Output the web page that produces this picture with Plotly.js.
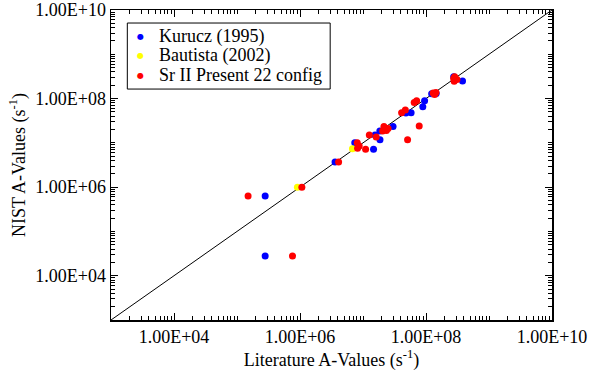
<!DOCTYPE html>
<html>
<head>
<meta charset="utf-8">
<script src="https://cdn.plot.ly/plotly-3.0.1.min.js"></script>
<style>
  html, body { margin: 0; padding: 0; background: #fff; }
  #chart { width: 589px; height: 372px; }
</style>
</head>
<body>
<div id="chart"></div>
<script>
// Transition probabilities (s^-1): literature value vs NIST value
var kuruczLit  = [2.8e5, 2.8e5, 3.6e6, 7.4e6, 1.47e7, 1.55e7, 1.86e7, 1.85e7, 3.0e7, 4.8e7, 5.8e7, 8.9e7, 9.5e7, 1.23e8, 1.45e8, 2.75e8, 3.8e8];
var kuruczNist = [6.3e5, 2.8e4, 3.7e6, 1.0e7, 7.2e6, 1.5e7, 1.18e7, 1.86e7, 2.35e7, 4.7e7, 4.8e7, 6.5e7, 8.9e7, 1.29e8, 1.3e8, 3.1e8, 2.5e8];
var bautistaLit  = [9.1e5, 6.8e6, 1.35e8];
var bautistaNist = [1.0e6, 7.4e6, 1.29e8];
var srIILit  = [1.5e5, 7.6e5, 1.07e6, 4.1e6, 8.1e6, 8.7e6, 8.2e6, 1.1e7, 1.26e7, 1.62e7, 2.05e7, 2.15e7, 2.5e7, 2.35e7, 4.1e7, 5.1e7, 4.7e7, 6.5e7, 7.1e7, 7.8e7, 1.44e8, 1.37e8, 1.3e8, 2.85e8, 2.8e8, 2.75e8, 3.1e8];
var srIINist = [6.3e5, 2.8e4, 1.0e6, 3.7e6, 1.0e7, 8.5e6, 7.6e6, 7.2e6, 1.5e7, 1.36e7, 1.85e7, 2.35e7, 2.1e7, 1.9e7, 4.8e7, 1.18e7, 5.5e7, 8.1e7, 8.9e7, 2.4e7, 1.38e8, 1.24e8, 1.34e8, 3.1e8, 2.45e8, 2.85e8, 2.7e8];
// Line of equality
var diagVals = [1e3, 1e10];

// Series names and colours (also used for the key)
var seriesNames  = ['Kurucz (1995)', 'Bautista (2002)', 'Sr II Present 22 config'];
var seriesColors = ['#0000ff', '#ffff00', '#ff0000'];

// Labelled ticks every second decade; minor ticks fill in the rest
var tickVals = [1e4, 1e6, 1e8, 1e10];
var tickText = ['1.00E+04', '1.00E+06', '1.00E+08', '1.00E+10'];

var serif = 'Liberation Serif, Times New Roman, serif';

var xs = [kuruczLit, bautistaLit, srIILit];
var ys = [kuruczNist, bautistaNist, srIINist];

var traces = [
  { x: diagVals, y: diagVals, mode: 'lines', type: 'scatter',
    line: { color: 'black', width: 1 }, showlegend: false, hoverinfo: 'skip' }
];
for (var i = 0; i < seriesNames.length; i++) {
  traces.push({ x: xs[i], y: ys[i], mode: 'markers', type: 'scatter', name: seriesNames[i],
    marker: { color: seriesColors[i], size: 7 }, showlegend: false });
}

function axis(titleText, standoff) {
  return {
    type: 'log',
    range: [3, 10],
    tickmode: 'array',
    tickvals: tickVals,
    ticktext: tickText,
    ticks: 'inside',
    ticklen: 7,
    tickwidth: 1,
    tickcolor: 'black',
    minor: { ticks: 'inside', ticklen: 4, tickwidth: 1, tickcolor: 'black', dtick: 'D1' },
    showline: true,
    linecolor: 'black',
    linewidth: 1.5,
    mirror: 'allticks',
    showgrid: false,
    zeroline: false,
    tickfont: { family: serif, size: 18, color: 'black' },
    title: { text: titleText, font: { family: serif, size: 18, color: 'black' }, standoff: standoff }
  };
}

// Key: framed box with coloured dots and series names
var keyTop = 0.958, keyBottom = 0.745, keyLeft = 0.037, keyRight = 0.497;
var rowY = [0.916, 0.853, 0.789];
var shapes = [{
  type: 'rect', xref: 'paper', yref: 'paper',
  x0: keyLeft, x1: keyRight, y0: keyBottom, y1: keyTop,
  line: { color: 'black', width: 1 }, fillcolor: 'white'
}];
var annotations = [];
for (var k = 0; k < seriesNames.length; k++) {
  annotations.push({
    xref: 'paper', yref: 'paper', x: 0.068, y: rowY[k], xanchor: 'center', yanchor: 'middle',
    text: '\u25CF', showarrow: false, font: { family: 'DejaVu Sans', size: 8, color: seriesColors[k] }
  });
  annotations.push({
    xref: 'paper', yref: 'paper', x: 0.105, y: rowY[k], xanchor: 'left', yanchor: 'middle',
    text: seriesNames[k], showarrow: false, font: { family: serif, size: 18, color: 'black' }
  });
}

var layout = {
  width: 589,
  height: 372,
  margin: { l: 111, r: 37, t: 10, b: 52 },
  paper_bgcolor: 'white',
  plot_bgcolor: 'white',
  xaxis: axis('Literature A-Values (s<sup>-1</sup>)', 0),
  yaxis: axis('NIST A-Values (s<sup>-1</sup>)', 5),
  showlegend: false,
  shapes: shapes,
  annotations: annotations
};

Plotly.newPlot('chart', traces, layout, { staticPlot: true, displayModeBar: false });
</script>
</body>
</html>
